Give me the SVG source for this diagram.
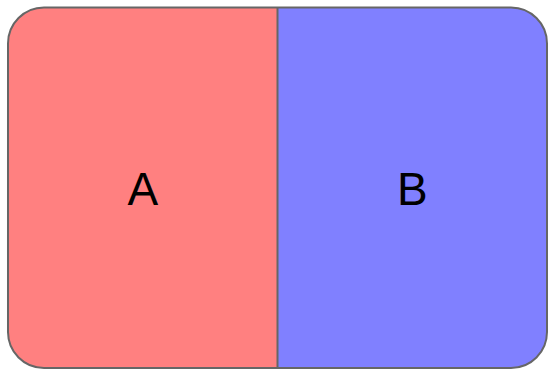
<svg xmlns="http://www.w3.org/2000/svg" width="548" height="369" viewBox="0 0 548 369">
  <style>
    .lbl { font-family: "Liberation Sans", Arial, sans-serif; font-size: 46px; fill: #000; text-anchor: middle; }
    .edge { stroke: #666666; stroke-width: 2; fill: none; }
  </style>
  <defs>
    <clipPath id="clip">
      <rect x="8" y="7.5" width="539" height="360.5" rx="36" ry="36"/>
    </clipPath>
  </defs>
  <g id="nodeA" clip-path="url(#clip)">
    <rect x="8" y="7.5" width="269.5" height="360.5" fill="#FF8080"/>
    <text class="lbl" x="142.75" y="204.5">A</text>
  </g>
  <g id="nodeB" clip-path="url(#clip)">
    <rect x="277.5" y="7.5" width="269.5" height="360.5" fill="#8080FF"/>
    <text class="lbl" x="412.25" y="204.5">B</text>
  </g>
  <g id="connectors">
    <line class="edge" x1="277.5" y1="7.5" x2="277.5" y2="368"/>
    <rect class="edge" x="8" y="7.5" width="539" height="360.5" rx="36" ry="36"/>
  </g>
</svg>
